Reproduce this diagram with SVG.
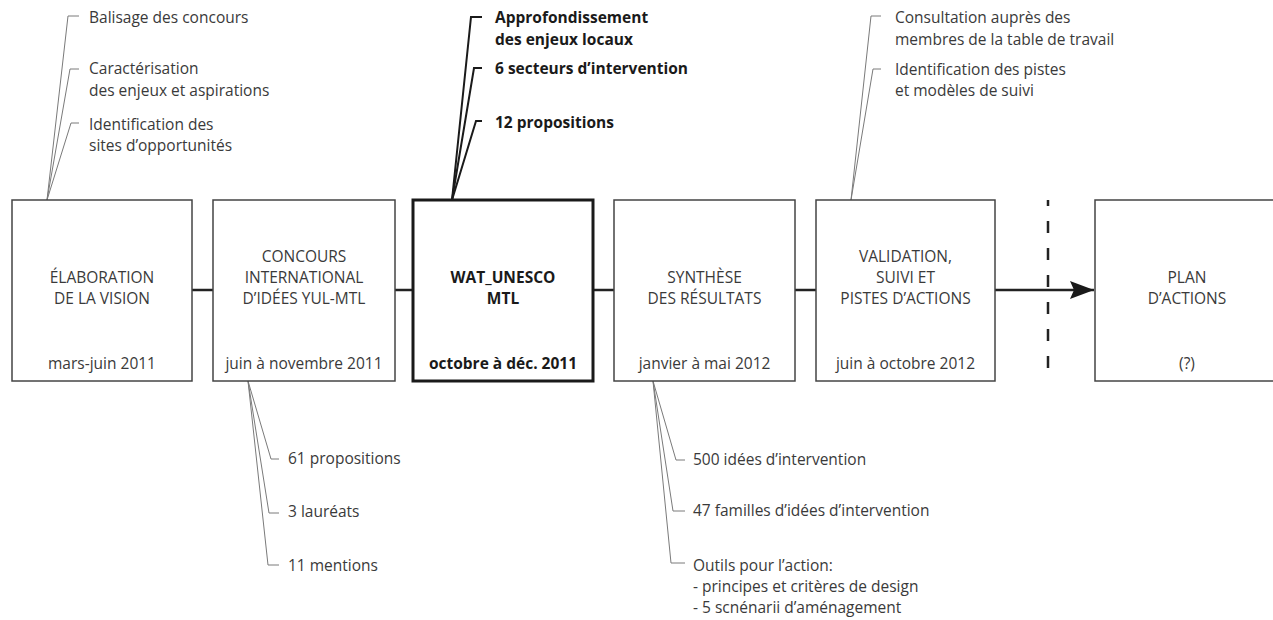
<svg xmlns="http://www.w3.org/2000/svg" width="1273" height="620" viewBox="0 0 1273 620">
<style>
  text { font-family: "Open Sans", "Liberation Sans", sans-serif; font-size: 15.5px; fill: #3a3a3a; }
  .c { text-anchor: middle; }
  .b { font-weight: bold; fill: #1a1a1a; }
  .box { fill: #ffffff; stroke: #444444; stroke-width: 1.5; }
  .boxb { fill: #ffffff; stroke: #1a1a1a; stroke-width: 3; }
  .link { stroke: #222222; stroke-width: 2.5; fill: none; }
  .call { stroke: #7a7a7a; stroke-width: 1; fill: none; }
  .callb { stroke: #1a1a1a; stroke-width: 2; fill: none; }
</style>
<defs>
  <marker id="arr" viewBox="0 0 24 18" refX="24" refY="9" markerWidth="24" markerHeight="18" markerUnits="userSpaceOnUse" orient="auto">
    <path d="M0,0 L24,9 L0,18 L4,9 Z" fill="#1a1a1a"/>
  </marker>
</defs>
<rect width="1273" height="620" fill="#ffffff"/>

<g id="connectors">
  <line class="link" x1="192" y1="290" x2="213" y2="290"/>
  <line class="link" x1="395" y1="290" x2="413" y2="290"/>
  <line class="link" x1="593" y1="290" x2="614" y2="290"/>
  <line class="link" x1="795" y1="290" x2="816" y2="290"/>
  <line class="link" x1="995" y1="290" x2="1094" y2="290" marker-end="url(#arr)"/>
  <line x1="1048" y1="200" x2="1048" y2="381" stroke="#222222" stroke-width="2.5" stroke-dasharray="12 15" stroke-dashoffset="6"/>
  <!-- callouts box1 top -->
  <polyline class="call" points="47,200 68,16 79,16"/>
  <polyline class="call" points="47,200 70,69 79,69"/>
  <polyline class="call" points="47,200 71,123 79,123"/>
  <!-- callouts box3 top -->
  <polyline class="callb" points="452,200 471,17 482,17"/>
  <polyline class="callb" points="452,200 474,68 482,68"/>
  <polyline class="callb" points="452,200 476,121 482,121"/>
  <!-- callouts box5 top -->
  <polyline class="call" points="851,200 871,16 881,16"/>
  <polyline class="call" points="851,200 873,69 881,69"/>
  <!-- callouts box2 bottom -->
  <polyline class="call" points="248,381 271,459 279,459"/>
  <polyline class="call" points="248,381 269,513 279,513"/>
  <polyline class="call" points="248,381 268,565 279,565"/>
  <!-- callouts box4 bottom -->
  <polyline class="call" points="653,381 676,460 685,460"/>
  <polyline class="call" points="653,381 673,511 685,511"/>
  <polyline class="call" points="653,381 671,563 685,563"/>
</g>

<g id="notes-top-1">
  <text x="89" y="23">Balisage des concours</text>
  <text x="89" y="74">Caractérisation</text>
  <text x="89" y="96">des enjeux et aspirations</text>
  <text x="89" y="130">Identification des</text>
  <text x="89" y="151">sites d’opportunités</text>
</g>
<g id="notes-top-3">
  <text class="b" x="495" y="23">Approfondissement</text>
  <text class="b" x="495" y="45">des enjeux locaux</text>
  <text class="b" x="495" y="74">6 secteurs d’intervention</text>
  <text class="b" x="495" y="128">12 propositions</text>
</g>
<g id="notes-top-5">
  <text x="895" y="23">Consultation auprès des</text>
  <text x="895" y="45">membres de la table de travail</text>
  <text x="895" y="75">Identification des pistes</text>
  <text x="895" y="96">et modèles de suivi</text>
</g>
<g id="notes-bottom-2">
  <text x="288" y="464">61 propositions</text>
  <text x="288" y="517">3 lauréats</text>
  <text x="288" y="571">11 mentions</text>
</g>
<g id="notes-bottom-4">
  <text x="693" y="465">500 idées d’intervention</text>
  <text x="693" y="516">47 familles d’idées d’intervention</text>
  <text x="693" y="571">Outils pour l’action:</text>
  <text x="693" y="592">- principes et critères de design</text>
  <text x="693" y="613">- 5 scnénarii d’aménagement</text>
</g>

<g id="node-elaboration">
  <rect class="box" x="12" y="200" width="180" height="181"/>
  <text class="c" x="102" y="283">ÉLABORATION</text>
  <text class="c" x="102" y="304">DE LA VISION</text>
  <text class="c" x="102" y="369">mars-juin 2011</text>
</g>
<g id="node-concours">
  <rect class="box" x="213" y="200" width="182" height="181"/>
  <text class="c" x="304" y="262">CONCOURS</text>
  <text class="c" x="304" y="283">INTERNATIONAL</text>
  <text class="c" x="304" y="304">D’IDÉES YUL-MTL</text>
  <text class="c" x="304" y="369">juin à novembre 2011</text>
</g>
<g id="node-wat">
  <rect class="boxb" x="413" y="200" width="180" height="181"/>
  <text class="c b" x="503" y="283">WAT_UNESCO</text>
  <text class="c b" x="503" y="304">MTL</text>
  <text class="c b" x="503" y="369">octobre à déc. 2011</text>
</g>
<g id="node-synthese">
  <rect class="box" x="614" y="200" width="181" height="181"/>
  <text class="c" x="704.5" y="283">SYNTHÈSE</text>
  <text class="c" x="704.5" y="304">DES RÉSULTATS</text>
  <text class="c" x="704.5" y="369">janvier à mai 2012</text>
</g>
<g id="node-validation">
  <rect class="box" x="816" y="200" width="179" height="181"/>
  <text class="c" x="905.5" y="262">VALIDATION,</text>
  <text class="c" x="905.5" y="283">SUIVI ET</text>
  <text class="c" x="905.5" y="304">PISTES D’ACTIONS</text>
  <text class="c" x="905.5" y="369">juin à octobre 2012</text>
</g>
<g id="node-plan">
  <rect class="box" x="1095" y="200" width="190" height="181"/>
  <text class="c" x="1187" y="283">PLAN</text>
  <text class="c" x="1187" y="304">D’ACTIONS</text>
  <text class="c" x="1187" y="369">(?)</text>
</g>
</svg>
